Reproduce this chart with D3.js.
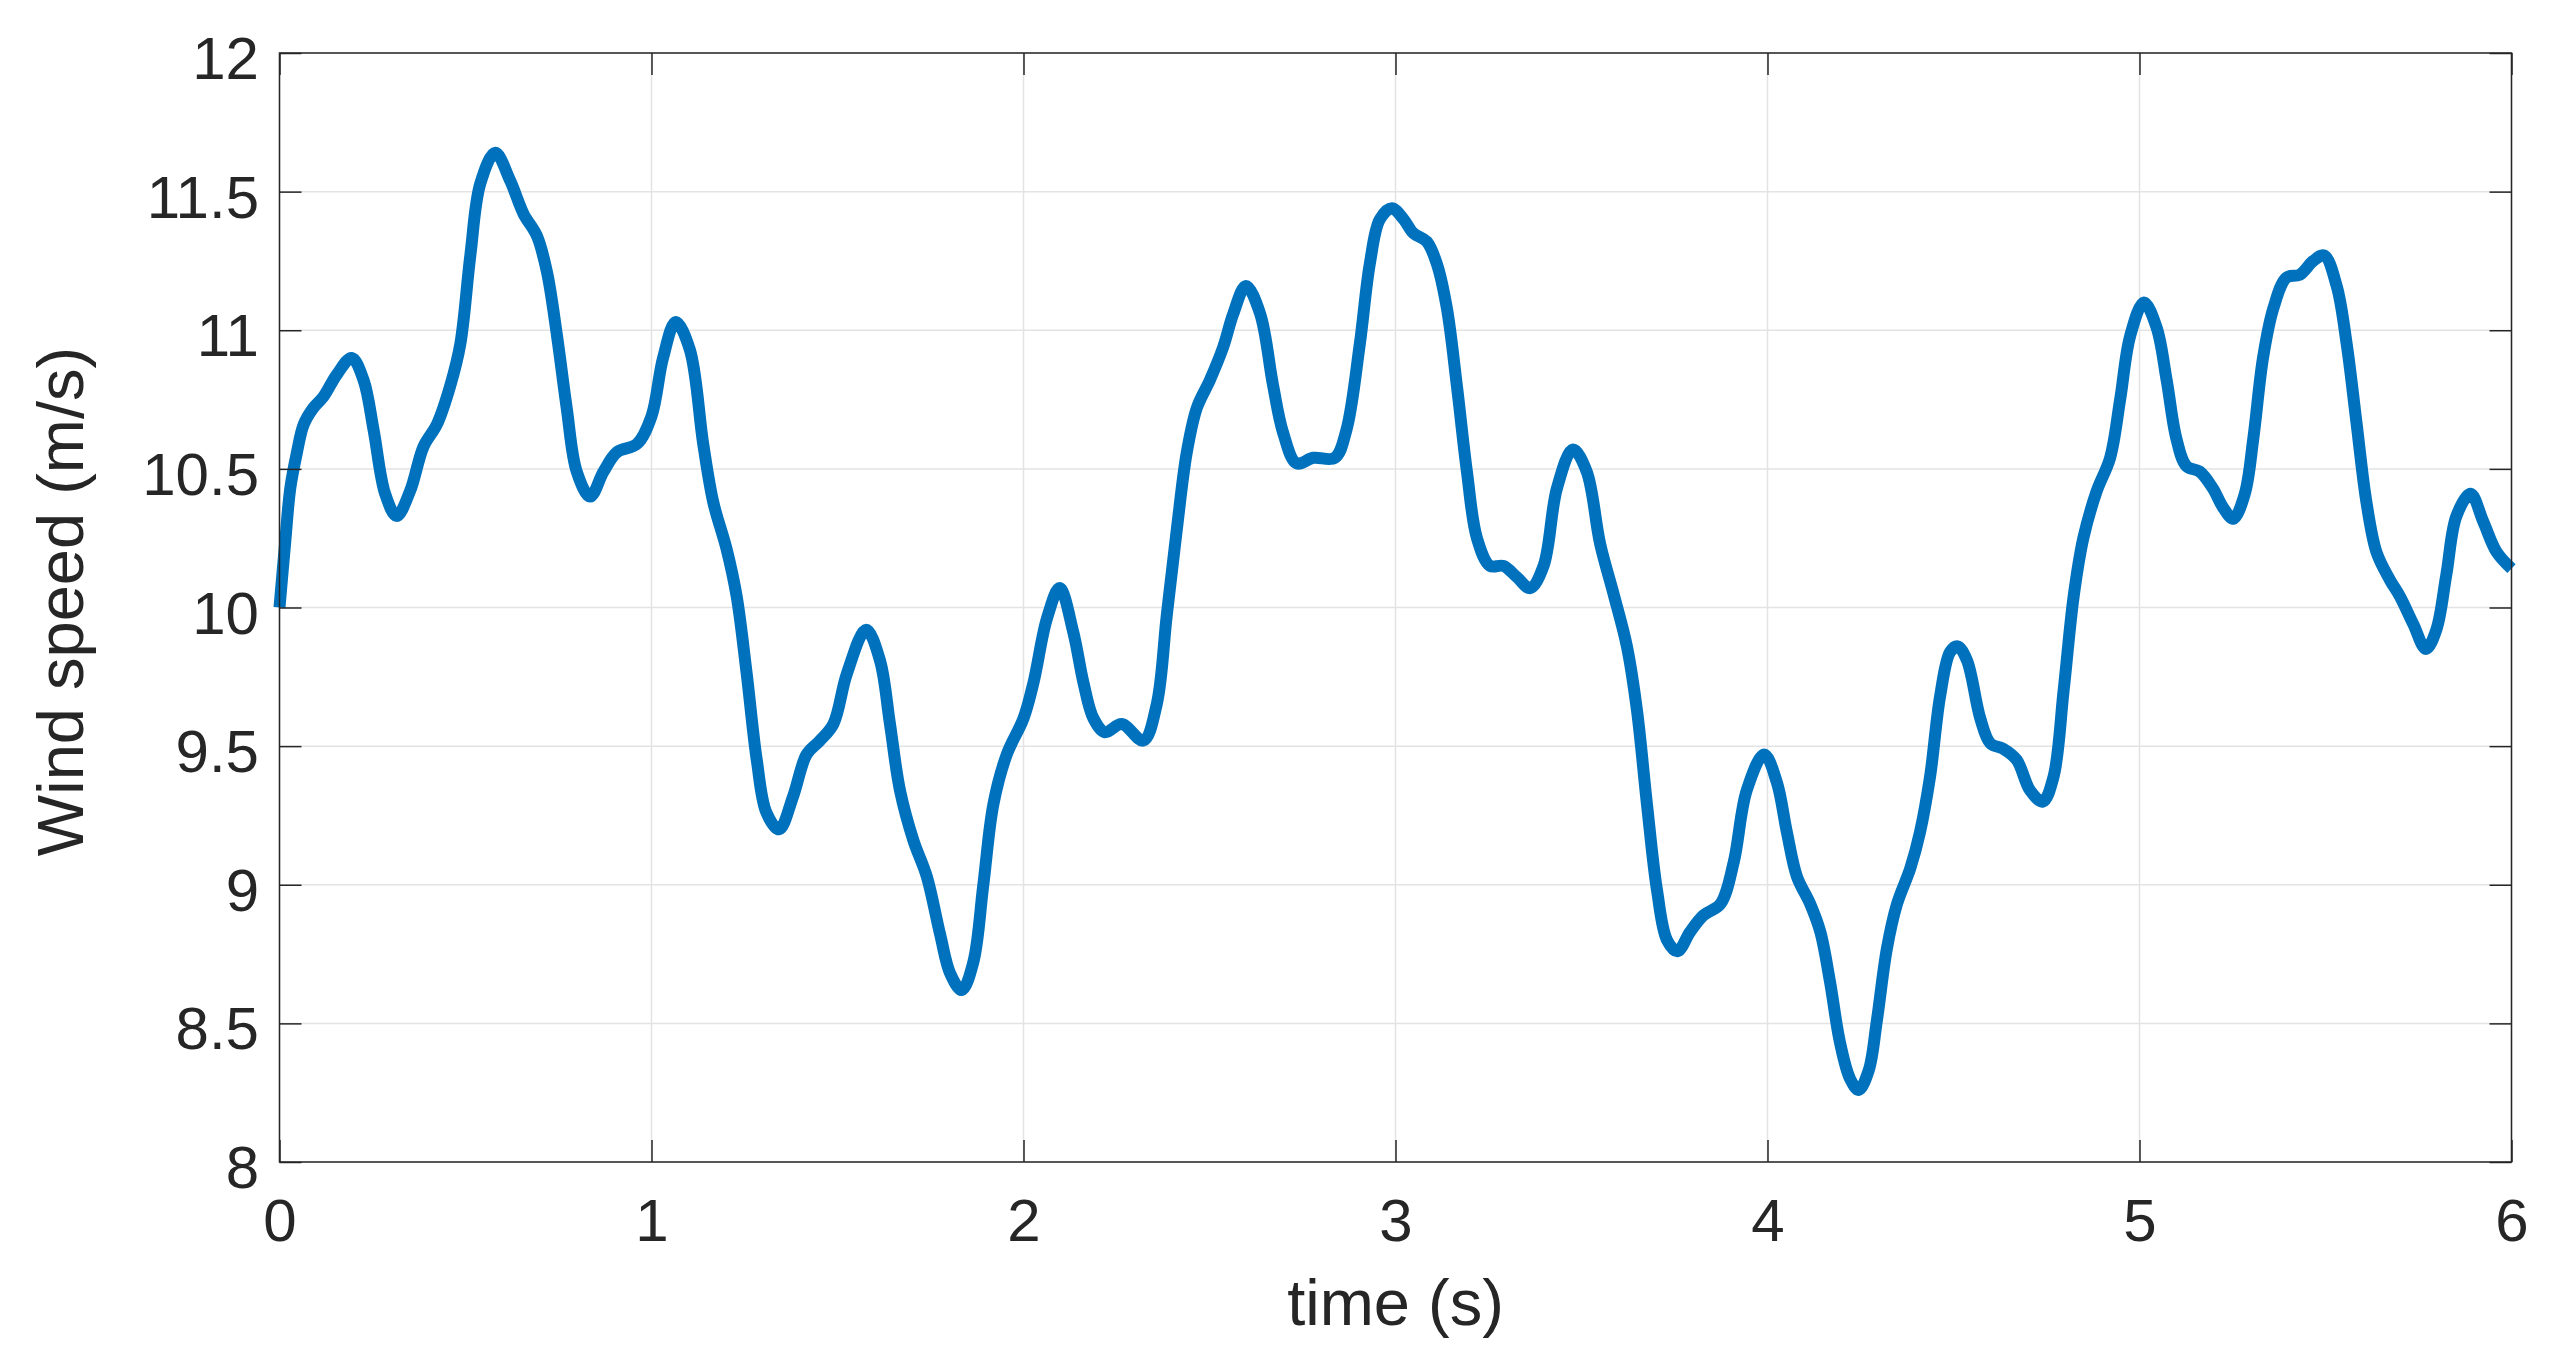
<!DOCTYPE html>
<html>
<head>
<meta charset="utf-8">
<script src="https://cdn.jsdelivr.net/npm/d3@7"></script>
<style>
  html, body { margin: 0; padding: 0; background: #ffffff; }
  svg { display: block; }
  text { font-family: "Liberation Sans", Arial, Helvetica, sans-serif; fill: #262626; }
</style>
</head>
<body>
<svg id="chart" width="2559" height="1370"></svg>
<script>
// ---- data ----
const times = [
  0.000,0.015,0.029,0.047,0.065,0.091,0.118,0.154,0.194,0.226,0.253,0.284,0.315,0.351,0.387,0.423,0.459,0.486,0.513,0.540,
  0.580,0.620,0.656,0.692,0.719,0.746,0.772,0.799,0.835,0.871,0.907,0.961,1.000,1.031,1.065,1.103,1.139,1.166,1.202,1.229,
  1.256,1.283,1.309,1.343,1.381,1.417,1.453,1.489,1.525,1.577,1.614,1.641,1.668,1.704,1.740,1.776,1.803,1.834,1.865,1.892,
  1.919,1.955,2.000,2.027,2.063,2.097,2.134,2.161,2.188,2.219,2.264,2.322,2.358,2.385,2.412,2.439,2.466,2.501,2.537,2.564,
  2.598,2.636,2.671,2.698,2.734,2.779,2.837,2.868,2.904,2.931,2.958,2.990,3.022,3.048,3.084,3.111,3.138,3.165,3.192,3.219,
  3.254,3.290,3.326,3.362,3.398,3.434,3.477,3.514,3.550,3.586,3.622,3.649,3.676,3.703,3.730,3.758,3.792,3.828,3.873,3.909,
  3.944,3.991,4.025,4.052,4.079,4.115,4.142,4.168,4.195,4.222,4.245,4.272,4.294,4.321,4.348,4.384,4.410,4.437,4.464,4.491,
  4.511,4.536,4.572,4.599,4.634,4.670,4.706,4.740,4.769,4.796,4.823,4.849,4.885,4.921,4.948,4.975,5.012,5.046,5.073,5.099,
  5.126,5.162,5.197,5.225,5.252,5.283,5.306,5.332,5.360,5.395,5.431,5.467,5.496,5.530,5.557,5.583,5.610,5.637,5.673,5.700,
  5.736,5.770,5.798,5.825,5.852,5.890,5.924,5.960,6.000
];
const windSpeed = [
  10.00,10.23,10.43,10.56,10.66,10.72,10.76,10.84,10.90,10.82,10.64,10.41,10.33,10.42,10.58,10.66,10.80,10.95,11.27,11.53,
  11.64,11.54,11.42,11.34,11.21,10.98,10.72,10.49,10.40,10.49,10.56,10.59,10.69,10.90,11.03,10.93,10.59,10.38,10.21,10.04,
  9.76,9.45,9.26,9.20,9.32,9.47,9.52,9.58,9.76,9.92,9.81,9.58,9.34,9.16,9.03,8.82,8.68,8.62,8.72,9.00,
  9.29,9.47,9.60,9.73,9.96,10.07,9.91,9.73,9.60,9.55,9.58,9.52,9.65,9.97,10.28,10.56,10.72,10.82,10.94,11.06,
  11.16,11.06,10.80,10.63,10.52,10.54,10.54,10.64,10.95,11.24,11.40,11.44,11.40,11.35,11.32,11.24,11.08,10.80,10.49,10.25,
  10.15,10.15,10.11,10.07,10.15,10.43,10.57,10.49,10.23,10.05,9.86,9.63,9.29,8.98,8.80,8.76,8.83,8.89,8.93,9.08,
  9.34,9.47,9.37,9.19,9.03,8.93,8.83,8.65,8.43,8.30,8.26,8.33,8.51,8.77,8.93,9.06,9.19,9.39,9.68,9.84,
  9.86,9.81,9.60,9.51,9.49,9.45,9.34,9.30,9.39,9.70,10.04,10.25,10.42,10.54,10.75,10.98,11.10,11.01,10.82,10.61,
  10.51,10.49,10.43,10.36,10.32,10.41,10.61,10.90,11.08,11.19,11.20,11.25,11.27,11.16,10.95,10.67,10.38,10.20,10.10,10.04,
  9.94,9.85,9.92,10.12,10.33,10.41,10.31,10.20,10.14
];
const xTicks = [0, 1, 2, 3, 4, 5, 6];
const yTicks = [8, 8.5, 9, 9.5, 10, 10.5, 11, 11.5, 12];
const xTickLabels = ["0", "1", "2", "3", "4", "5", "6"];
const yTickLabels = ["8", "8.5", "9", "9.5", "10", "10.5", "11", "11.5", "12"];
const xLabel = "time (s)";
const yLabel = "Wind speed (m/s)";

// ---- layout ----
const L = 279.5, R = 2511.5, T = 53, B = 1162;
const svg = d3.select("#chart");
const x = d3.scaleLinear().domain([0, 6]).range([L, R]);
const y = d3.scaleLinear().domain([8, 12]).range([B, T]);
const axisColor = "#262626";
const tickLen = 22;

// grid
const grid = svg.append("g");
grid.selectAll("line.gx").data(xTicks).join("line")
  .attr("x1", d => x(d)).attr("x2", d => x(d)).attr("y1", T).attr("y2", B)
  .attr("stroke", "#e3e3e3").attr("stroke-width", 1.5);
grid.selectAll("line.gy").data(yTicks).join("line")
  .attr("x1", L).attr("x2", R).attr("y1", d => y(d)).attr("y2", d => y(d))
  .attr("stroke", "#e3e3e3").attr("stroke-width", 1.5);

// data line
const pts = times.map((t, i) => [t, windSpeed[i]]);
const line = d3.line().x(d => x(d[0])).y(d => y(d[1])).curve(d3.curveCatmullRom.alpha(0.5));
svg.append("path").datum(pts)
  .attr("d", line)
  .attr("fill", "none")
  .attr("stroke", "#0072BD")
  .attr("stroke-width", 12)
  .attr("stroke-linejoin", "round")
  .attr("stroke-linecap", "butt");

// axes with inward ticks on all four sides
const fmtX = (d, i) => xTickLabels[i];
const fmtY = (d, i) => yTickLabels[i];

const gBottom = svg.append("g").attr("transform", `translate(0,${B})`)
  .call(d3.axisBottom(x).tickValues(xTicks).tickFormat(fmtX).tickSizeInner(-tickLen).tickSizeOuter(0).tickPadding(0));
const gTop = svg.append("g").attr("transform", `translate(0,${T})`)
  .call(d3.axisTop(x).tickValues(xTicks).tickFormat("").tickSizeInner(-tickLen).tickSizeOuter(0));
const gLeft = svg.append("g").attr("transform", `translate(${L},0)`)
  .call(d3.axisLeft(y).tickValues(yTicks).tickFormat(fmtY).tickSizeInner(-tickLen).tickSizeOuter(0).tickPadding(0));
const gRight = svg.append("g").attr("transform", `translate(${R},0)`)
  .call(d3.axisRight(y).tickValues(yTicks).tickFormat("").tickSizeInner(-tickLen).tickSizeOuter(0));

[gBottom, gTop, gLeft, gRight].forEach(g => {
  g.select(".domain").remove();
  g.selectAll(".tick line").attr("stroke", axisColor).attr("stroke-width", 1.5);
});

// tick label placement
gBottom.selectAll(".tick text")
  .attr("y", 1240.5 - B).attr("dy", null)
  .attr("font-size", 60).attr("fill", "#262626")
  .style("font-family", '"Liberation Sans", Arial, sans-serif');
gLeft.selectAll(".tick text")
  .attr("x", 259 - L).attr("dy", null).attr("y", 25.5)
  .attr("font-size", 60).attr("fill", "#262626")
  .attr("text-anchor", "end")
  .style("font-family", '"Liberation Sans", Arial, sans-serif');

// box
svg.append("rect")
  .attr("x", L).attr("y", T).attr("width", R - L).attr("height", B - T)
  .attr("fill", "none").attr("stroke", axisColor).attr("stroke-width", 1.5);

// axis labels
svg.append("text")
  .attr("x", (L + R) / 2).attr("y", 1325)
  .attr("text-anchor", "middle").attr("font-size", 65)
  .text(xLabel);
svg.append("text")
  .attr("transform", `translate(83,${(T + B) / 2 - 6}) rotate(-90)`)
  .attr("text-anchor", "middle").attr("font-size", 65)
  .text(yLabel);
</script>
</body>
</html>
